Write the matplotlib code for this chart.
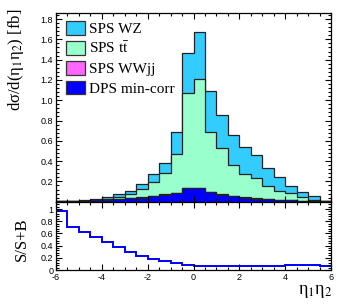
import numpy as np
import matplotlib
matplotlib.use("Agg")
import matplotlib.pyplot as plt
from matplotlib.patches import Patch
from matplotlib.ticker import MultipleLocator

plt.rcParams['axes.unicode_minus'] = False
plt.rcParams['mathtext.fontset'] = 'stix'

# eta1*eta2 bins, width 0.5 from -6 to 6
edges = np.arange(-6, 6.01, 0.5)

# stacked components [fb]
dps = [0.004, 0.005, 0.007, 0.014, 0.020, 0.027, 0.033, 0.040, 0.055, 0.070, 0.085, 0.134,
       0.134, 0.092, 0.069, 0.053, 0.040, 0.030, 0.024, 0.017, 0.013, 0.010, 0.005, 0.002]
wwjj = [0.0, 0.0, 0.0, 0.001, 0.001, 0.001, 0.002, 0.002, 0.002, 0.003, 0.003, 0.004,
        0.004, 0.003, 0.003, 0.002, 0.002, 0.002, 0.001, 0.001, 0.001, 0.001, 0.0, 0.0]
ttbar = [0.0, 0.001, 0.003, 0.005, 0.009, 0.017, 0.041, 0.082, 0.133, 0.208, 0.379, 0.934,
         1.071, 0.595, 0.461, 0.308, 0.230, 0.197, 0.132, 0.090, 0.068, 0.032, 0.015, 0.001]
wz = [0.001, 0.002, 0.002, 0.007, 0.015, 0.031, 0.034, 0.052, 0.082, 0.105, 0.223, 0.392,
      0.467, 0.398, 0.320, 0.297, 0.267, 0.232, 0.180, 0.137, 0.075, 0.055, 0.033, 0.001]

# S/(S+B) in each bin
ratio = [0.97, 0.71, 0.63, 0.54, 0.46, 0.37, 0.30, 0.23, 0.18, 0.15, 0.11, 0.08,
         0.07, 0.068, 0.065, 0.065, 0.065, 0.065, 0.068, 0.07, 0.08, 0.08, 0.075, 0.06]

labels = ['SPS WZ', r'SPS t$\bar{\mathrm{t}}$', 'SPS WWjj', 'DPS min-corr']
colors = ['#33ccff', '#99ffcc', '#ff66ff', '#0000ff']

serif = 'Liberation Serif'
sans = 'Liberation Sans'

fig = plt.figure(figsize=(3.49, 3.07), dpi=100)
ax = fig.add_axes([0.1605, 0.343, 0.788, 0.6147])
axr = fig.add_axes([0.1605, 0.1205, 0.788, 0.2225])

# cumulative stack, drawn from the top down
c1 = np.array(dps)
c2 = c1 + np.array(wwjj)
c3 = c2 + np.array(ttbar)
c4 = c3 + np.array(wz)
for cum, col in zip([c4, c3, c2, c1], colors):
    ax.stairs(cum, edges, baseline=0, fill=True, color=col, lw=0)
    ax.stairs(cum, edges, baseline=0, color='#222222', lw=0.9)

ax.set_xlim(-6, 6)
ax.set_ylim(0, 1.86)
ax.set_yticks(np.arange(0.2, 1.81, 0.2))
ax.yaxis.set_minor_locator(MultipleLocator(0.04))
ax.xaxis.set_major_locator(MultipleLocator(2))
ax.xaxis.set_minor_locator(MultipleLocator(0.5))
ax.tick_params(labelbottom=False)

axr.stairs(ratio, edges, baseline=None, color='#0000ff', lw=1.4)
axr.set_xlim(-6, 6)
axr.set_ylim(0, 1.12)
axr.set_yticks(np.arange(0, 1.01, 0.2))
axr.set_yticklabels(['0', '0.2', '0.4', '0.6', '0.8', '1'])
axr.yaxis.set_minor_locator(MultipleLocator(0.04))
axr.xaxis.set_major_locator(MultipleLocator(2))
axr.xaxis.set_minor_locator(MultipleLocator(0.5))

for a in (ax, axr):
    a.tick_params(which='both', direction='in', top=True, right=True, width=0.8)
    a.tick_params(which='major', length=4, labelsize=6.5, pad=2)
    a.tick_params(which='minor', length=2)
    for lab in a.get_xticklabels() + a.get_yticklabels():
        lab.set_family(sans)
    for s in a.spines.values():
        s.set_linewidth(0.9)

handles = [Patch(facecolor=c, edgecolor='#333333', lw=0.9) for c in colors]
ax.legend(handles, labels, loc='upper left', bbox_to_anchor=(0.035, 0.958),
          frameon=False, prop={'family': serif, 'size': 11},
          handlelength=1.25, handleheight=1.0, handletextpad=0.25,
          labelspacing=0.3, borderpad=0, borderaxespad=0)

fig.text(16 / 349, 1 - 60 / 307, 'dσ/d(η$_{1}$η$_{2}$) [fb]', rotation=90,
         ha='center', va='center', family=serif, fontsize=12)
fig.text(22 / 349, 1 - 239 / 307, 'S/S+B', rotation=90,
         ha='center', va='center', family=serif, fontsize=12)
fig.text(333 / 349, 1 - 291 / 307, 'η$_{1}$η$_{2}$', ha='right', va='center',
         family=serif, fontsize=13)

fig.savefig('out.png', dpi=100)
